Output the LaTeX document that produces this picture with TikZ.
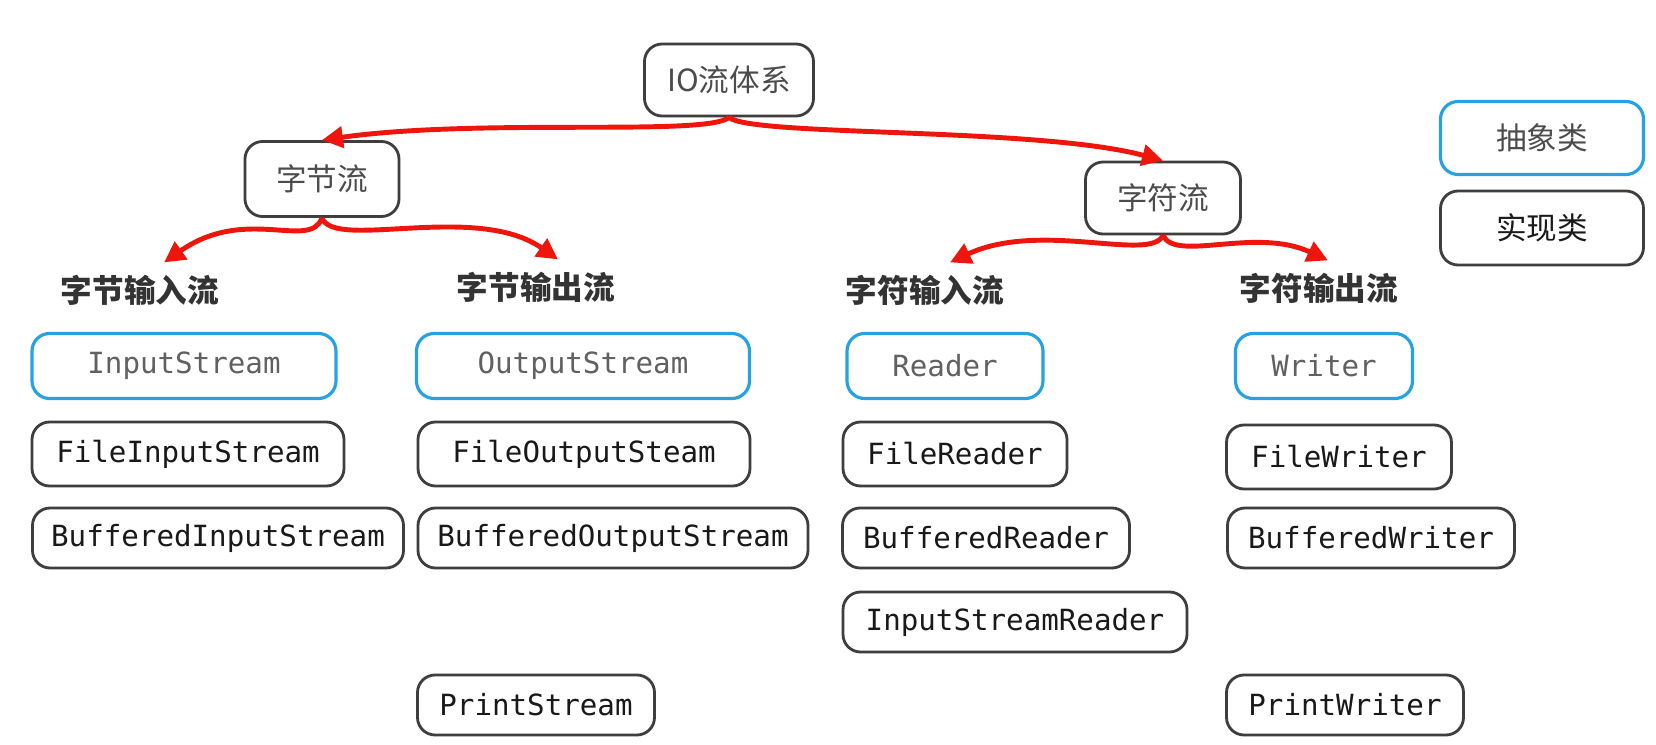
\documentclass[tikz,border=0pt]{standalone}
\usepackage{fontspec}
\usepackage{xcolor}
\usepackage{tikz}
\usetikzlibrary{arrows.meta}

\setmonofont{DejaVu Sans Mono}
\newfontfamily\cjk{Noto Sans CJK SC}

\definecolor{absblue}{RGB}{38,162,228}
\definecolor{boxline}{RGB}{62,62,62}
\definecolor{arrowred}{RGB}{238,22,12}

\begin{document}
\begin{tikzpicture}[
  group/.style={draw=boxline, rounded corners=5pt, line width=0.8pt,
              minimum height=0.72cm, align=center, text=black!70,
              font=\cjk\fontsize{8.7}{10}\selectfont},
  label/.style={font=\cjk\bfseries\fontsize{9}{10}\selectfont, text=black!80},
  absbox/.style={draw=absblue, rounded corners=5pt, line width=0.9pt,
              minimum height=0.65cm, text=black!62,
              font=\ttfamily\fontsize{8.3}{10}\selectfont},
  implbox/.style={draw=boxline, rounded corners=5pt, line width=0.8pt,
              minimum height=0.6cm, text=black!90,
              font=\ttfamily\fontsize{8.3}{10}\selectfont},
  arr/.style={-{Triangle[length=2.1mm, width=2.1mm]}, line width=1.4pt, arrowred}
]
  \path[fill=white, use as bounding box] (0,0) rectangle (16.56,-7.45);

  % Tree
  \node[group, minimum width=1.69cm] (io)    at (7.29,-0.80)  {IO流体系};
  \node[group, minimum width=1.54cm, minimum height=0.75cm] (bytes) at (3.22,-1.79) {字节流};
  \node[group, minimum width=1.55cm] (chars) at (11.63,-1.98) {字符流};

  % Legend
  \node[group, draw=absblue, line width=0.9pt, minimum width=2.03cm, minimum height=0.73cm] (legabs) at (15.42,-1.38) {抽象类};
  \node[group, minimum width=2.03cm, minimum height=0.74cm, text=black!90] (legimpl) at (15.42,-2.28) {实现类};

  % Column headers
  \node[label] (bin)  at (1.40,-2.90)  {字节输入流};
  \node[label] (bout) at (5.36,-2.87)  {字节输出流};
  \node[label] (cin)  at (9.25,-2.90)  {字符输入流};
  \node[label] (cout) at (13.19,-2.88) {字符输出流};

  % Abstract classes
  \node[absbox, minimum width=3.04cm] (instream)  at (1.84,-3.66)  {InputStream};
  \node[absbox, minimum width=3.33cm] (outstream) at (5.83,-3.66)  {OutputStream};
  \node[absbox, minimum width=1.96cm] (reader)    at (9.45,-3.66)  {Reader};
  \node[absbox, minimum width=1.77cm] (writer)    at (13.24,-3.66) {Writer};

  % Implementations
  \node[implbox, minimum width=3.12cm, minimum height=0.64cm] (fileins)  at (1.88,-4.54)  {FileInputStream};
  \node[implbox, minimum width=3.32cm, minimum height=0.64cm] (fileouts) at (5.84,-4.54)  {FileOutputSteam};
  \node[implbox, minimum width=2.24cm, minimum height=0.64cm] (filerd)   at (9.55,-4.54)  {FileReader};
  \node[implbox, minimum width=2.25cm, minimum height=0.64cm] (filewr)   at (13.39,-4.57) {FileWriter};

  \node[implbox, minimum width=3.71cm] (bufins)  at (2.18,-5.38)  {BufferedInputStream};
  \node[implbox, minimum width=3.90cm] (bufouts) at (6.13,-5.38)  {BufferedOutputStream};
  \node[implbox, minimum width=2.87cm] (bufrd)   at (9.86,-5.38)  {BufferedReader};
  \node[implbox, minimum width=2.87cm] (bufwr)   at (13.71,-5.38) {BufferedWriter};

  \node[implbox, minimum width=3.44cm] (insrd)   at (10.15,-6.22) {InputStreamReader};

  \node[implbox, minimum width=2.37cm] (prints)  at (5.36,-7.05)  {PrintStream};
  \node[implbox, minimum width=2.37cm] (printwr) at (13.45,-7.05) {PrintWriter};

  % Arrows
  \draw[arr] (io.south) .. controls +(-140:0.3) and +(8:1.6) .. (bytes.north);
  \draw[arr] (io.south) .. controls +(-40:0.3) and +(165:1.3) .. (chars.north);
  \draw[arr] (bytes.south) .. controls +(-110:0.35) and +(35:1.0) .. ([xshift=0.24cm]bin.north);
  \draw[arr] (bytes.south) .. controls +(-70:0.35) and +(145:1.0) .. ([xshift=0.22cm]bout.north);
  \draw[arr] (chars.south) .. controls +(-115:0.3) and +(25:1.0) .. ([xshift=0.25cm]cin.north);
  \draw[arr] (chars.south) .. controls +(-65:0.3) and +(155:0.8) .. ([xshift=0.09cm]cout.north);

\end{tikzpicture}
\end{document}
